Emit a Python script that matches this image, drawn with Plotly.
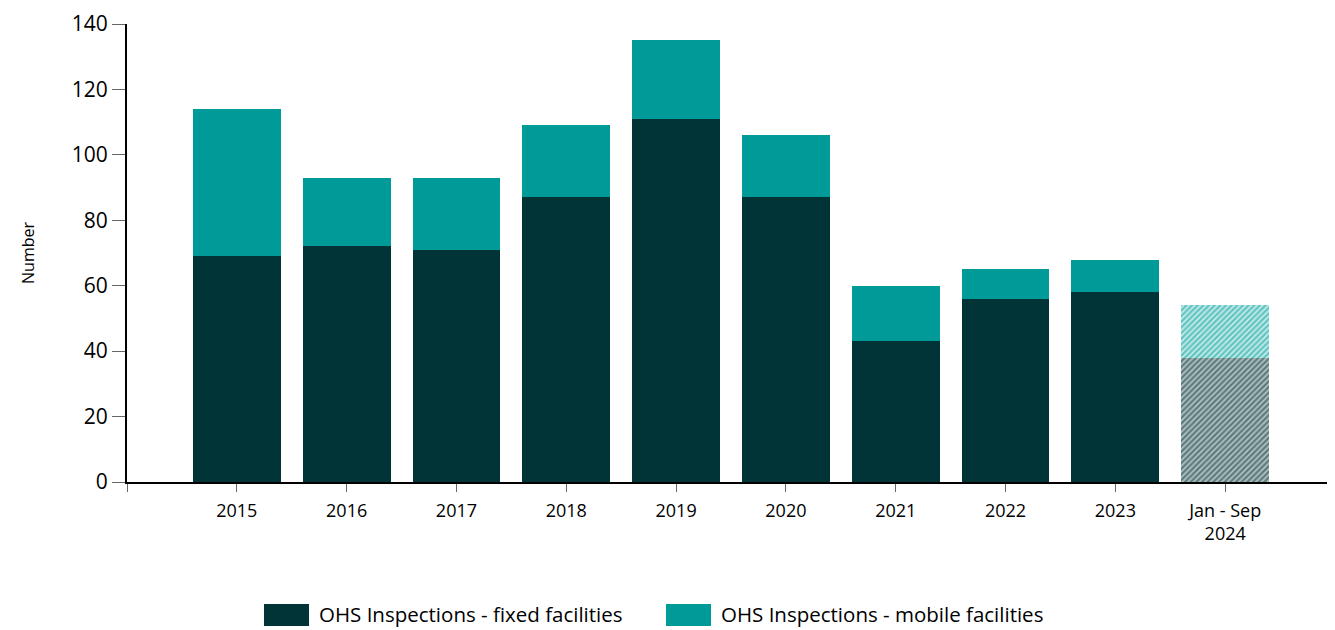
import plotly.graph_objects as go

categories = ["2015", "2016", "2017", "2018", "2019", "2020", "2021", "2022", "2023", "Jan - Sep<br>2024"]
fixed = [69, 72, 71, 87, 111, 87, 43, 56, 58, 38]
mobile = [45, 21, 22, 22, 24, 19, 17, 9, 10, 16]
partial = [False] * 9 + [True]

FIXED_C = "#013436"
MOBILE_C = "#009B98"
FONT = "Open Sans"

xs = list(range(len(categories)))
shapes_pat = ["/" if p else "" for p in partial]

fig = go.Figure()
fig.add_bar(
    x=xs, y=fixed, name="OHS Inspections - fixed facilities", width=0.8,
    marker=dict(color=FIXED_C, line_width=0,
                pattern=dict(shape=shapes_pat, fgcolor=FIXED_C, bgcolor="#b8c4c4", size=4, solidity=0.6)),
    showlegend=False,
)
fig.add_bar(
    x=xs, y=mobile, name="OHS Inspections - mobile facilities", width=0.8,
    marker=dict(color=MOBILE_C, line_width=0,
                pattern=dict(shape=shapes_pat, fgcolor=MOBILE_C, bgcolor="#c4ecea", size=4, solidity=0.55)),
    showlegend=False,
)

# the page body adds an 8px offset; compensate so the plot sits where the reference has it
fig.update_layout(
    barmode="stack",
    width=1327, height=622,
    margin=dict(l=119, r=0, t=16, b=148),
    paper_bgcolor="white", plot_bgcolor="white",
    font=dict(family=FONT, color="#000"),
    xaxis=dict(
        range=[-1, 10], tickmode="array", tickvals=[-1] + xs, ticktext=[""] + categories,
        ticks="outside", ticklen=8, tickcolor="#666", tickwidth=1,
        showline=True, linecolor="#000", linewidth=2, showgrid=False, zeroline=False,
        tickfont=dict(size=18, family=FONT), ticklabelstandoff=3,
    ),
    yaxis=dict(
        range=[0, 140], tickvals=[0, 20, 40, 60, 80, 100, 120, 140],
        ticks="outside", ticklen=13, tickcolor="#666", tickwidth=1,
        showline=True, linecolor="#000", linewidth=2, showgrid=False, zeroline=False,
        tickfont=dict(size=21, family=FONT),
        title=dict(text="Number", font=dict(size=16, family=FONT), standoff=33),
    ),
)

# legend drawn manually (large swatches like the reference)
legend_items = [("OHS Inspections - fixed facilities", FIXED_C, 264), ("OHS Inspections - mobile facilities", MOBILE_C, 666)]
for label, col, px in legend_items:
    x0 = (px - 127) / 1208
    x1 = (px + 45 - 127) / 1208
    fig.add_shape(type="rect", xref="paper", yref="paper", x0=x0, x1=x1,
                  y0=(482 - 626) / 458, y1=(482 - 604) / 458, fillcolor=col, line_width=0)
    fig.add_annotation(xref="paper", yref="paper", x=(px + 53 - 127) / 1208, y=(482 - 614) / 458,
                       text=label, showarrow=False, xanchor="left", yanchor="middle",
                       font=dict(size=20.5, family=FONT, color="#000"))

fig.write_html("out.html")
